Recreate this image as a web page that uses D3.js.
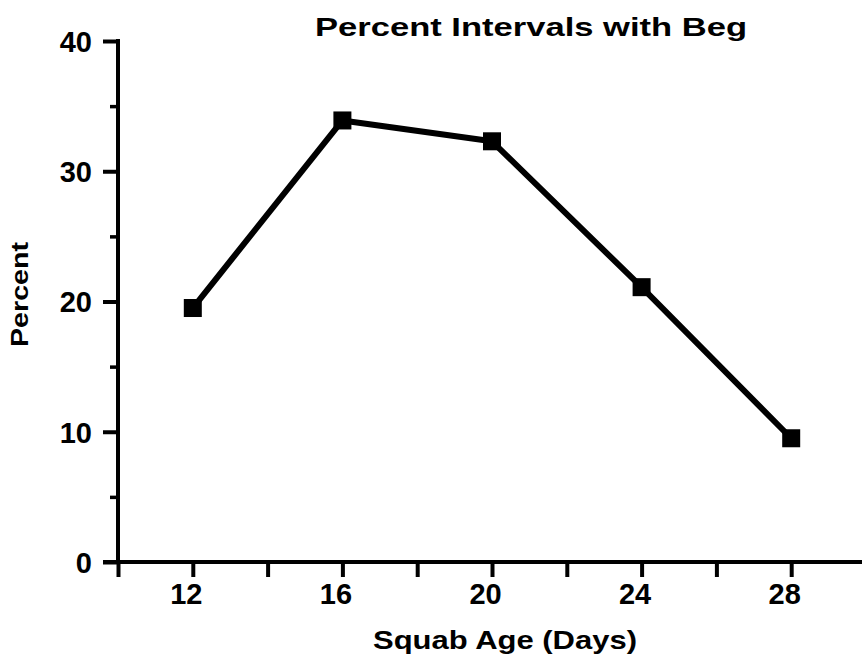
<!DOCTYPE html>
<html><head><meta charset="utf-8">
<script src="https://cdn.jsdelivr.net/npm/d3@7"></script>
<style>body{margin:0;background:#fff}svg{display:block}text{font-family:"Liberation Sans",Arial,Helvetica,sans-serif;font-weight:bold;fill:#000}</style>
</head><body><div id="chart"></div>
<script>
const ages = [12, 16, 20, 24, 28];
const percents = [19.5, 33.9, 32.3, 21.1, 9.5];
const xMajorTicks = [12, 16, 20, 24, 28];
const xMinorTicks = [10, 14, 18, 22, 26];
const yMajorTicks = [0, 10, 20, 30, 40];
const yMinorTicks = [5, 15, 25, 35];
const title = "Percent Intervals with Beg";
const xTitle = "Squab Age (Days)";
const yTitle = "Percent";

const W = 862, H = 663;
const svg = d3.select("#chart").append("svg").attr("width", W).attr("height", H);
const x = d3.scaleLinear().domain([10, 30]).range([118, 866]);
const y = d3.scaleLinear().domain([0, 40]).range([562, 41]);

// Y axis major
const yAxis = svg.append("g").attr("transform", `translate(${x(10)},0)`)
  .call(d3.axisLeft(y).tickValues(yMajorTicks).tickSize(15).tickPadding(11).tickFormat(d3.format("d")));
yAxis.select(".domain").remove();
yAxis.selectAll(".tick line").attr("stroke", "#000").attr("stroke-width", 4);
yAxis.selectAll(".tick text").style("font-size", "29px").attr("dy", "0.36em");
const yMinor = svg.append("g").attr("transform", `translate(${x(10)},0)`)
  .call(d3.axisLeft(y).tickValues(yMinorTicks).tickSize(8).tickFormat(""));
yMinor.select(".domain").remove();
yMinor.selectAll(".tick line").attr("stroke", "#000").attr("stroke-width", 3.5);

// X axis
const xAxis = svg.append("g").attr("transform", `translate(0,${y(0)})`)
  .call(d3.axisBottom(x).tickValues(xMajorTicks).tickSize(15).tickPadding(6).tickFormat(d3.format("d")));
xAxis.select(".domain").remove();
xAxis.selectAll(".tick line").attr("stroke", "#000").attr("stroke-width", 4);
xAxis.selectAll(".tick text").style("font-size", "29px").attr("dx", "-7");
const xMinor = svg.append("g").attr("transform", `translate(0,${y(0)})`)
  .call(d3.axisBottom(x).tickValues(xMinorTicks).tickSize(15).tickFormat(""));
xMinor.select(".domain").remove();
xMinor.selectAll(".tick line").attr("stroke", "#000").attr("stroke-width", 4);

// axis lines
svg.append("line").attr("x1", x(10)).attr("x2", x(10)).attr("y1", y(40) - 2).attr("y2", y(0))
  .attr("stroke", "#000").attr("stroke-width", 4);
svg.append("line").attr("x1", x(10) - 15).attr("x2", W).attr("y1", y(0)).attr("y2", y(0))
  .attr("stroke", "#000").attr("stroke-width", 4);

// line + markers
const data = ages.map((a, i) => ({a, p: percents[i]}));
svg.append("path").datum(data)
  .attr("d", d3.line().x(d => x(d.a)).y(d => y(d.p)))
  .attr("fill", "none").attr("stroke", "#000").attr("stroke-width", 6).attr("stroke-linejoin", "round");
const ms = 18;
svg.selectAll("rect.m").data(data).join("rect").attr("class", "m")
  .attr("x", d => x(d.a) - ms / 2).attr("y", d => y(d.p) - ms / 2)
  .attr("width", ms).attr("height", ms).attr("fill", "#000");

// titles
svg.append("text").attr("x", 315).attr("y", 36)
  .attr("textLength", 432).attr("lengthAdjust", "spacingAndGlyphs")
  .style("font-size", "26px").text(title);
svg.append("text").attr("x", 373).attr("y", 649)
  .attr("textLength", 264).attr("lengthAdjust", "spacingAndGlyphs")
  .style("font-size", "25px").text(xTitle);
svg.append("text").attr("transform", "translate(28,347) rotate(-90)")
  .attr("textLength", 105).attr("lengthAdjust", "spacingAndGlyphs")
  .style("font-size", "24px").text(yTitle);
</script></body></html>
